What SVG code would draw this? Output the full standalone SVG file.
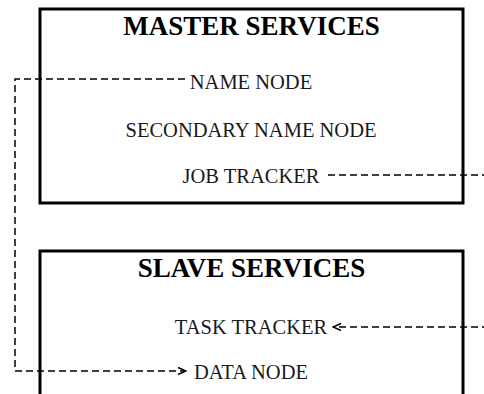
<svg xmlns="http://www.w3.org/2000/svg" width="484" height="394" viewBox="0 0 484 394">
<style>
.box{fill:#fff;stroke:#000;stroke-width:3}
.title{font-family:"Liberation Serif",serif;font-weight:bold;font-size:27px;fill:#000;text-anchor:middle}
.lbl{font-family:"Liberation Serif",serif;font-size:20.5px;fill:#1a1a1a;text-anchor:middle}
.dash{fill:none;stroke:#000;stroke-width:1.5;stroke-dasharray:7 4}
</style>
<defs>
<marker id="arr" markerWidth="10" markerHeight="10" refX="9" refY="5" orient="auto" markerUnits="userSpaceOnUse">
<path d="M1,1.5 L9,5 L1,8.5" fill="none" stroke="#000" stroke-width="1.4"/>
</marker>
</defs>
<rect width="484" height="394" fill="#fff"/>
<g id="master">
<rect class="box" x="40" y="9" width="423" height="194"/>
<text class="title" x="251.5" y="35">MASTER SERVICES</text>
</g>
<g id="name-node"><text class="lbl" x="251" y="89">NAME NODE</text></g>
<g id="secondary-name-node"><text class="lbl" x="251" y="137">SECONDARY NAME NODE</text></g>
<g id="job-tracker"><text class="lbl" x="251" y="183">JOB TRACKER</text></g>
<g id="slave">
<rect class="box" x="40" y="251" width="423" height="160"/>
<text class="title" x="251.5" y="277">SLAVE SERVICES</text>
</g>
<g id="task-tracker"><text class="lbl" x="251" y="334">TASK TRACKER</text></g>
<g id="data-node"><text class="lbl" x="251" y="379">DATA NODE</text></g>
<g id="connectors">
<path class="dash" d="M185,79 H15 V371 H186" marker-end="url(#arr)"/>
<path class="dash" d="M328,175 H492 V327 H333" marker-end="url(#arr)"/>
</g>
</svg>
